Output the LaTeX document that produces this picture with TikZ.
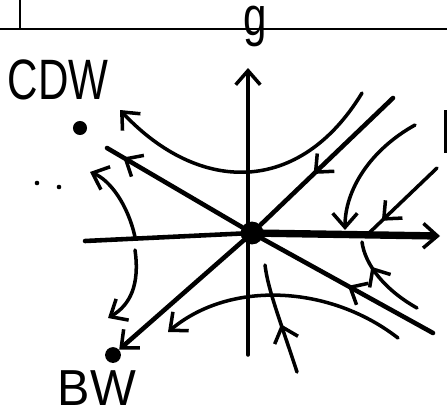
\documentclass[tikz,border=0pt]{standalone}
\usepackage{fontspec}
\setmainfont{Liberation Sans}
\usetikzlibrary{arrows.meta, decorations.markings, positioning}
\tikzset{
  barb/.tip={Straight Barb[length=8pt, width=14pt, line width=2pt]},
  flow/.style={line width=2pt, line cap=round},
  sepx/.style={line width=2.6pt, line cap=round},
  midarrow/.style={postaction={decorate}, decoration={markings,
      mark=at position #1 with {\arrow{barb}}}},
  fixpt/.style={circle, fill, inner sep=0pt, minimum size=#1},
  lbl/.style={font=\fontsize{24}{28}\selectfont, inner sep=0pt}
}
\begin{document}
\begin{tikzpicture}[x=0.2mm, y=-0.2mm]
\useasboundingbox (0,0) rectangle (447,413);

% Top rule
\draw[line width=1.3pt] (0,29) -- (447,29);
\draw[line width=1.3pt] (20,0) -- (20,29);

% Fixed points and labels
\node[fixpt=13pt] (ctr) at (252,233) {};
\node[fixpt=8pt] (cdw) at (80,128) {};
\node[fixpt=9pt] (bw) at (113,355) {};
\node[lbl] (cdwlbl) at (58,80) {\scalebox{1}[1.35]{CDW}};
\node[lbl] (bwlbl) at (97,388) {\scalebox{1.15}[1.2]{BW}};
\node[lbl, anchor=base] (glbl) at (255,35) {\scalebox{1}[1.3]{g}};

% Axes
\draw[flow, -{barb}] (248,355) -- (248,68);
\draw[sepx] (85,241) -- (ctr.center);
\draw[line width=4.2pt, -{barb}] (ctr.center) -- (440,236);

% Separatrices
\coordinate (ul) at (107,148);
\coordinate (ur) at (393,98);
\coordinate (lr) at (433,333);
\draw[sepx, midarrow=0.88] (ctr) -- (ul);
\draw[sepx, -{barb}] (ctr) -- (bw);
\draw[sepx, midarrow=0.6] (ur) -- (ctr);
\draw[sepx, midarrow=0.5] (lr) -- (ctr);

% Flow lines
\draw[flow, -{barb}] (362,93) .. controls (300,195) and (200,195) .. (120,110);
\draw[flow, -{barb}] (415,125) .. controls (370,150) and (345,190) .. (345,230);
\draw[flow, midarrow=0.8] (437,168) -- (368,234);
\draw[flow, midarrow=0.7] (417,308) .. controls (385,290) and (365,265) .. (362,242);
\draw[flow, -{barb}] (398,338) .. controls (330,285) and (230,280) .. (168,332);
\draw[flow, -{barb}] (135,237) .. controls (128,205) and (110,180) .. (90,172);
\draw[flow, -{barb}] (135,250) .. controls (140,285) and (130,305) .. (108,318);
\draw[flow, midarrow=0.45] (297,372) .. controls (280,320) and (268,290) .. (265,265);

% Stray marks
\foreach \x/\y in {37/183, 59/187}
  \fill (\x,\y) circle (1.3pt);
\draw[line width=2pt] (446,110) -- (446,153);
\end{tikzpicture}
\end{document}
